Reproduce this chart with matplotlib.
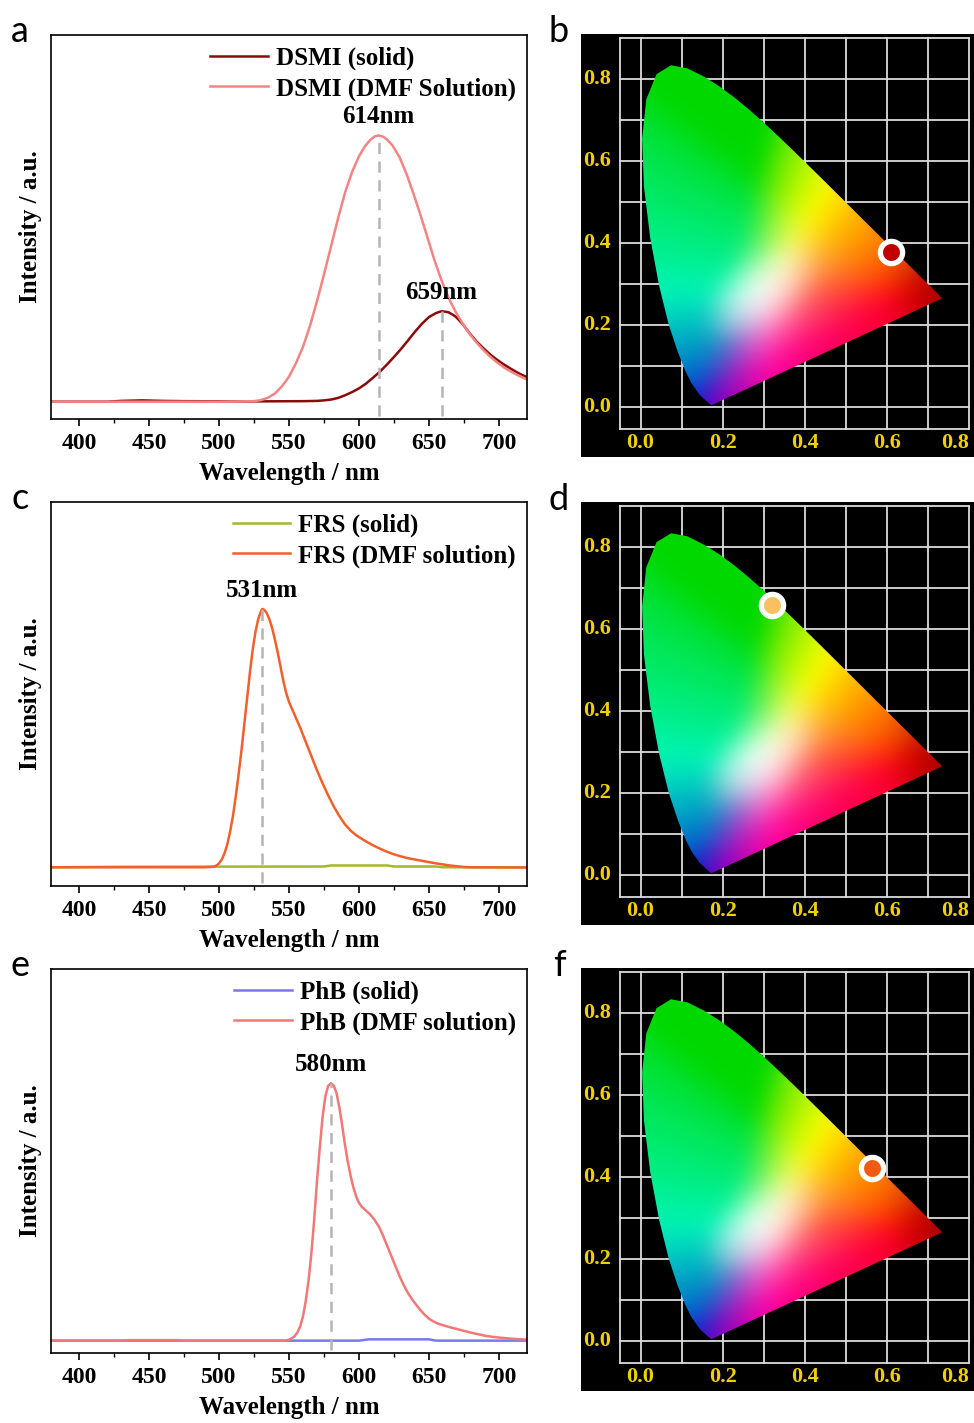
import numpy as np
import matplotlib
matplotlib.use("Agg")
import matplotlib.pyplot as plt
from matplotlib.patches import Polygon
from matplotlib.ticker import MultipleLocator

plt.rcParams["font.family"] = "Liberation Serif"
plt.rcParams["font.weight"] = "bold"

# ---- emission spectra (normalised intensity) ----
dsmi_dmf_wl = [380, 420, 500, 525, 530, 535, 540, 545, 550, 555, 560, 565, 570, 575, 580, 585, 590, 595,
               600, 604, 608, 611, 614, 617, 620, 624, 629, 634, 639, 644, 649, 654, 659, 664, 669, 674,
               679, 684, 689, 694, 699, 704, 709, 714, 720]
dsmi_dmf = [0.0, 0.0, 0.0, 0.002, 0.006, 0.015, 0.031, 0.058, 0.094, 0.145, 0.206, 0.285, 0.378, 0.478,
            0.583, 0.688, 0.785, 0.862, 0.922, 0.958, 0.983, 0.996, 1.0, 0.996, 0.985, 0.962, 0.918, 0.855,
            0.78, 0.70, 0.615, 0.53, 0.455, 0.39, 0.338, 0.294, 0.255, 0.222, 0.193, 0.168, 0.146, 0.127,
            0.112, 0.098, 0.083]
dsmi_solid_wl = [380, 420, 430, 445, 460, 475, 520, 560, 570, 575, 580, 585, 590, 595, 600, 605, 610, 615,
                 620, 625, 630, 635, 640, 645, 650, 655, 659, 664, 669, 674, 679, 684, 689, 694, 699, 704,
                 709, 714, 720]
dsmi_solid = [0.0, 0.0, 0.003, 0.005, 0.003, 0.002, 0.001, 0.002, 0.003, 0.005, 0.008, 0.014, 0.024, 0.036,
              0.05, 0.068, 0.09, 0.113, 0.14, 0.168, 0.198, 0.23, 0.263, 0.293, 0.318, 0.333, 0.34, 0.336,
              0.32, 0.292, 0.257, 0.226, 0.2, 0.176, 0.156, 0.138, 0.122, 0.107, 0.092]

frs_dmf_wl = [380, 490, 496, 498, 500, 502, 504, 506, 508, 510, 512, 514, 516, 518, 520, 522, 524, 526, 528,
              530, 531, 532, 534, 536, 538, 540, 542, 544, 546, 548, 550, 554, 558, 562, 566, 570, 574, 578,
              582, 586, 590, 594, 598, 602, 606, 610, 615, 620, 625, 630, 635, 640, 645, 650, 655, 660, 665,
              670, 675, 680, 720]
frs_dmf = [0.0, 0.0, 0.002, 0.006, 0.015, 0.03, 0.055, 0.09, 0.14, 0.2, 0.275, 0.36, 0.45, 0.55, 0.65, 0.75,
           0.84, 0.91, 0.96, 0.992, 1.0, 0.998, 0.985, 0.96, 0.925, 0.88, 0.83, 0.775, 0.72, 0.675, 0.64, 0.59,
           0.54, 0.485, 0.43, 0.375, 0.325, 0.278, 0.235, 0.198, 0.166, 0.142, 0.124, 0.11, 0.097, 0.085,
           0.072, 0.06, 0.05, 0.042, 0.035, 0.03, 0.025, 0.02, 0.015, 0.011, 0.007, 0.004, 0.001, 0.0, -0.001]
frs_solid_wl = [380, 430, 575, 580, 620, 625, 655, 660, 720]
frs_solid = [0.0, 0.002, 0.003, 0.007, 0.007, 0.003, 0.003, 0.0, 0.0]

phb_dmf_wl = [380, 430, 435, 470, 475, 546, 548, 550, 552, 554, 556, 558, 560, 562, 564, 566, 568, 570, 572,
              574, 576, 578, 580, 582, 584, 586, 588, 590, 592, 594, 596, 598, 600, 602, 605, 608, 611, 614,
              617, 620, 623, 626, 629, 632, 635, 638, 641, 644, 647, 650, 653, 656, 660, 665, 670, 675, 680,
              685, 690, 695, 700, 710, 720]
phb_dmf = [0.0, 0.0, 0.002, 0.002, 0.0, 0.0, 0.001, 0.004, 0.009, 0.017, 0.032, 0.055, 0.095, 0.155, 0.235,
           0.34, 0.47, 0.62, 0.75, 0.87, 0.95, 0.99, 1.0, 0.99, 0.96, 0.905, 0.835, 0.76, 0.695, 0.64, 0.595,
           0.56, 0.535, 0.52, 0.505, 0.49, 0.47, 0.445, 0.41, 0.37, 0.33, 0.29, 0.25, 0.215, 0.185, 0.16, 0.138,
           0.118, 0.1, 0.085, 0.075, 0.067, 0.06, 0.052, 0.045, 0.038, 0.031, 0.025, 0.019, 0.015, 0.012,
           0.007, 0.004]
phb_solid_wl = [380, 600, 607, 650, 655, 720]
phb_solid = [0.0, 0.0, 0.005, 0.005, 0.0, 0.0]

# ---- CIE 1931 spectral locus ----
locus_x = [0.1741, 0.1733, 0.1714, 0.1644, 0.1566, 0.1440, 0.1241, 0.1096, 0.0913, 0.0687, 0.0454, 0.0235,
           0.0082, 0.0039, 0.0139, 0.0389, 0.0743, 0.1142, 0.1547, 0.1929, 0.2296, 0.2658, 0.3016, 0.3373,
           0.3731, 0.4087, 0.4441, 0.4788, 0.5125, 0.5448, 0.5752, 0.6029, 0.6270, 0.6658, 0.6915, 0.7079,
           0.7190, 0.7260, 0.7300, 0.7334, 0.7347]
locus_y = [0.0050, 0.0048, 0.0051, 0.0109, 0.0177, 0.0297, 0.0578, 0.0868, 0.1327, 0.2007, 0.2950, 0.4127,
           0.5384, 0.6548, 0.7502, 0.8120, 0.8338, 0.8262, 0.8059, 0.7816, 0.7543, 0.7243, 0.6923, 0.6589,
           0.6245, 0.5896, 0.5547, 0.5202, 0.4866, 0.4544, 0.4242, 0.3965, 0.3725, 0.3340, 0.3083, 0.2920,
           0.2809, 0.2740, 0.2700, 0.2666, 0.2653]

cie_points = {"b": (0.61, 0.378, "#c00000"),
              "d": (0.319, 0.658, "#f8c060"),
              "f": (0.563, 0.423, "#f05a12")}
cie_ticks = [0.0, 0.2, 0.4, 0.6, 0.8]

W, H = 974, 1423
fig = plt.figure(figsize=(W / 100, H / 100), dpi=100)


def px_rect(x0, y0, x1, y1):
    return [x0 / W, 1 - y1 / H, (x1 - x0) / W, (y1 - y0) / H]


def spectrum(top, ylim, curves, peaks, letter):
    ax = fig.add_axes(px_rect(51, top, 527, top + 384))
    for wl, val, col, lab in curves:
        ax.plot(wl, val, color=col, lw=1.8, label=lab)
    # dashed marker from each peak down to the axis, with its wavelength on top
    for p, idx in peaks:
        wl, val = curves[idx][0], curves[idx][1]
        h = np.interp(p, wl, val)
        ax.plot([p, p], [ylim[0] + 0.012, h], color="#b4b4b4", lw=1.8, ls=(0, (4.5, 3)), zorder=3)
        ax.text(p, h + 0.028, f"{p}nm", ha="center", va="bottom", fontsize=18, fontweight="bold")
    ax.set_xlim(380, 720)
    ax.set_ylim(*ylim)
    ax.set_yticks([])
    ax.xaxis.set_major_locator(MultipleLocator(50))
    ax.xaxis.set_minor_locator(MultipleLocator(25))
    ax.tick_params(axis="x", which="major", length=5, width=1.2, labelsize=17, pad=5)
    ax.tick_params(axis="x", which="minor", length=3, width=1.0)
    for lbl in ax.get_xticklabels():
        lbl.set_fontweight("bold")
    for s in ax.spines.values():
        s.set_linewidth(1.2)
    ax.set_xlabel("Wavelength / nm", fontsize=18, fontweight="bold")
    ax.xaxis.set_label_coords(0.5, -0.112)
    ax.set_ylabel("Intensity / a.u.", fontsize=18, fontweight="bold")
    ax.yaxis.set_label_coords(-0.018, 0.5)
    ax.legend(loc="upper right", bbox_to_anchor=(1.0, 1.0), frameon=False,
              handlelength=2.3, handletextpad=0.32, labelspacing=0.3, borderaxespad=0.05,
              prop={"weight": "bold", "size": 18})
    fig.text(20 / W, 1 - (top + 7) / H, letter, fontsize=26, family="Lato", fontweight="normal",
             ha="center", va="baseline")
    return ax


def smooth(img, sigma):
    # separable gaussian blur, edges padded with their own values
    r = int(3 * sigma)
    k = np.exp(-0.5 * (np.arange(-r, r + 1) / sigma) ** 2)
    k /= k.sum()
    out = np.pad(img, ((r, r), (r, r), (0, 0)), mode="edge")
    out = np.apply_along_axis(lambda v: np.convolve(v, k, mode="valid"), 0, out)
    out = np.apply_along_axis(lambda v: np.convolve(v, k, mode="valid"), 1, out)
    return out


def cie_rgb(x0, x1, y0, y1, n=300):
    xs = np.linspace(x0, x1, n)
    ys = np.linspace(y0, y1, n)
    X, Y = np.meshgrid(xs, ys)
    # hue taken from sRGB, measured around a white spot sitting at (0.30, 0.28)
    wx, wy = 0.30, 0.28
    Xs = X + (0.3127 - wx)
    Ys = np.clip(Y + (0.329 - wy), 0.02, None)
    xyz = np.stack([Xs / Ys, np.ones_like(X), (1 - Xs - Ys) / Ys], axis=-1)
    m = np.array([[3.2406, -1.5372, -0.4986],
                  [-0.9689, 1.8758, 0.0415],
                  [0.0557, -0.2040, 1.0570]])
    rgb = np.clip(xyz @ m.T, 0, None)
    mx = rgb.max(axis=-1, keepdims=True)
    mn = rgb.min(axis=-1, keepdims=True)
    hue = 0.6 * (rgb - mn) / np.clip(mx - mn, 1e-9, None) + 0.4 * rgb / np.clip(mx, 1e-9, None)
    # saturation grows with distance from the white spot (stretched along the diagonal)
    dx, dy = X - wx, Y - wy
    u = dx * 0.75 + dy * 0.66
    v = -dx * 0.66 + dy * 0.75
    t = np.clip(np.sqrt((u / 0.16) ** 2 + (v / 0.09) ** 2), 0, 1)[..., None]
    rgb = 1 - (1 - hue) * t
    rgb = np.where(rgb <= 0.0031308, 12.92 * rgb, 1.055 * np.clip(rgb, 0, None) ** (1 / 2.4) - 0.055)
    r, g, b = rgb[..., 0], rgb[..., 1], rgb[..., 2]
    b = b * (1 - 0.35 * r * (1 - g)) * (1 - 0.25 * g * (1 - r))
    shade = 1 - 0.15 * g * (1 - r) * (1 - b)
    shade = shade * (1 - 0.2 * b * (1 - r) * (1 - g))
    shade = shade * (1 - 0.35 * np.clip((X - 0.6) / 0.14, 0, 1))
    rgb = np.stack([r, g, b], axis=-1) * shade[..., None]
    return np.clip(smooth(rgb, 9), 0, 1)


cie_img = cie_rgb(-0.145, 0.812, -0.122, 0.91)


def cie_panel(top, key):
    ax = fig.add_axes(px_rect(581, top, 974, top + 423))
    xl, yl = (-0.145, 0.812), (-0.122, 0.91)
    ax.set_xlim(*xl)
    ax.set_ylim(*yl)
    ax.set_facecolor("black")
    ax.set_xticks([])
    ax.set_yticks([])
    for s in ax.spines.values():
        s.set_visible(False)

    gx0, gx1, gy0, gy1 = -0.05, 0.8, -0.053, 0.9
    for gx in [gx0] + list(np.arange(0, 0.75, 0.1)) + [gx1]:
        ax.plot([gx, gx], [gy0, gy1], color="#dcdcdc", lw=1.3, zorder=1)
    for gy in [gy0] + list(np.arange(0, 0.85, 0.1)) + [gy1]:
        ax.plot([gx0, gx1], [gy, gy], color="#dcdcdc", lw=1.3, zorder=1)

    img = ax.imshow(cie_img, extent=[*xl, *yl], origin="lower", aspect="auto",
                    interpolation="bilinear", zorder=2)
    shape = Polygon(np.column_stack([locus_x, locus_y]), closed=True, transform=ax.transData)
    img.set_clip_path(shape)

    for t in cie_ticks:
        tx = min(t, 0.765)
        ax.text(tx, -0.088, f"{t:.1f}", color="#f0d000", fontsize=16, fontweight="bold",
                ha="center", va="center", zorder=4)
        ax.text(-0.105, t, f"{t:.1f}", color="#f0d000", fontsize=16, fontweight="bold",
                ha="center", va="center", zorder=4)

    px_, py_, col = cie_points[key]
    ax.plot(px_, py_, "o", ms=16, mfc=col, mec="white", mew=3.8, zorder=5)
    fig.text(559 / W, 1 - (top + 8) / H, key, fontsize=26, family="Lato", fontweight="normal",
             ha="center", va="baseline")
    return ax


spectrum(35, (-0.065, 1.3775),
         [(dsmi_solid_wl, dsmi_solid, "#8b0a0a", "DSMI (solid)"),
          (dsmi_dmf_wl, dsmi_dmf, "#f28484", "DSMI (DMF Solution)")],
         [(614, 1), (659, 0)], "a")
spectrum(502, (-0.0725, 1.414),
         [(frs_solid_wl, frs_solid, "#a4b82c", "FRS (solid)"),
          (frs_dmf_wl, frs_dmf, "#f0602a", "FRS (DMF solution)")],
         [(531, 1)], "c")
spectrum(969, (-0.048, 1.4436),
         [(phb_solid_wl, phb_solid, "#7878f0", "PhB (solid)"),
          (phb_dmf_wl, phb_dmf, "#f27878", "PhB (DMF solution)")],
         [(580, 1)], "e")

cie_panel(34, "b")
cie_panel(502, "d")
cie_panel(968, "f")

fig.savefig("out.png", dpi=100, facecolor="white")
